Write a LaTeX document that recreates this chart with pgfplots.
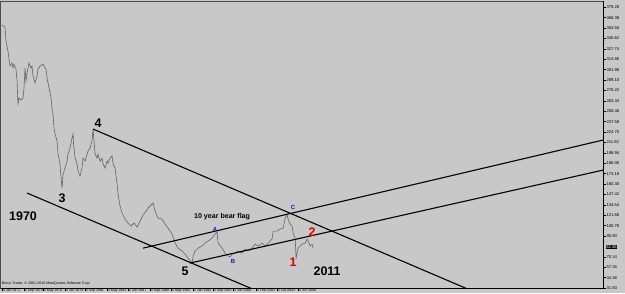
\documentclass[border=0pt]{standalone}
\usepackage{pgfplots}
\pgfplotsset{compat=1.18}
\usepackage{fontspec}
\setmainfont{Liberation Sans}
\definecolor{bg}{RGB}{200,200,200}
\definecolor{pl}{RGB}{100,100,100}
\definecolor{lblue}{RGB}{20,20,200}
\definecolor{lred}{RGB}{220,0,0}
\begin{document}
\begin{tikzpicture}[x=1bp,y=1bp]
\useasboundingbox (0,0) rectangle (625,293);
\fill[bg] (0,0) rectangle (625,293);
\begin{axis}[
  at={(0,5.5)}, anchor=south west,
  scale only axis, width=603bp, height=287.5bp,
  xmin=1970.75, xmax=2046.1, ymin=30.9, ymax=386.95,
  axis x line=bottom, axis y line=right,
  axis line style={-, black, line width=0.7bp},
  clip=false,
  tick align=outside,
  major tick length=2.5bp,
  tick style={black, line width=0.4bp},
  xtick={1971.0,1973.75,1976.13,1978.88,1981.38,1984.13,1986.75,1989.5,1992.13,1994.88,1997.38,1999.88,2002.75,2005.38,2007.99},
  xticklabels={2 Jan 1971,1 Sep 1973,1 May 1976,2 Jan 1979,1 Sep 1981,1 May 1984,2 Jan 1987,1 Sep 1989,1 May 1992,2 Jan 1995,1 Sep 1997,1 Jun 2000,1 Feb 2003,1 Oct 2005,1 Jun 2008},
  xticklabel style={font=\fontsize{3.5}{4}\selectfont, anchor=north west, inner sep=0.3bp, xshift=0.5bp, yshift=2.2bp},
  ytick={31.50,44.38,57.26,70.14,95.90,108.78,121.66,134.54,147.42,160.30,173.18,186.06,198.94,211.82,224.70,237.58,250.46,263.34,276.22,289.10,301.98,314.86,327.74,340.62,353.50,366.38,379.26},
  yticklabel style={font=\fontsize{4.2}{5}\selectfont, anchor=west, inner sep=0.5bp, xshift=0.3bp,
    /pgf/number format/.cd, fixed, precision=2, zerofill, assume math mode=true},
  scaled y ticks=false,
]
% price history
\addplot[pl, line width=0.6bp] coordinates {
(1970.96,357.2) (1971.25,356.0) (1971.38,353.5) (1971.5,337.4) (1971.75,325.0)
(1972.0,306.4) (1972.25,310.2) (1972.38,304.0) (1972.5,308.9) (1972.75,302.7)
(1972.88,287.9) (1973.0,259.4) (1973.13,266.8) (1973.38,264.4) (1973.63,266.8)
(1973.75,279.2) (1973.88,304.0) (1974.0,287.9) (1974.13,297.8) (1974.38,310.2)
(1974.63,304.0) (1974.75,306.4) (1974.88,294.1) (1975.13,285.4) (1975.38,294.1)
(1975.5,302.7) (1975.75,306.4) (1976.13,308.9) (1976.25,306.4) (1976.5,302.7)
(1976.63,291.6) (1976.88,279.2) (1977.13,266.8) (1977.25,254.4) (1977.38,247.0)
(1977.5,229.7) (1977.63,222.2) (1977.88,213.6) (1978.0,197.5) (1978.25,185.1)
(1978.38,167.7) (1978.5,155.3) (1978.63,172.7) (1978.88,180.1) (1979.13,188.8)
(1979.25,197.5) (1979.5,204.9) (1979.75,217.3) (1979.88,222.2) (1979.94,209.8)
(1980.13,192.5) (1980.38,185.1) (1980.5,176.4) (1980.75,170.2) (1981.0,180.1)
(1981.13,192.5) (1981.38,188.8) (1981.63,197.5) (1981.75,201.2) (1982.0,204.9)
(1982.25,213.6) (1982.38,228.4) (1982.63,197.5) (1982.88,192.5) (1983.0,197.5)
(1983.25,188.8) (1983.5,192.5) (1983.63,185.1) (1983.88,180.1) (1984.13,188.8)
(1984.25,186.3) (1984.5,192.5) (1984.75,195.0) (1984.88,185.1) (1985.13,180.1)
(1985.38,160.3) (1985.5,147.9) (1985.75,133.1) (1986.0,124.4) (1986.38,116.9)
(1986.75,112.0) (1987.13,108.3) (1987.5,112.0) (1987.88,107.1) (1988.25,114.5)
(1988.63,122.0) (1989.0,126.9) (1989.25,130.6) (1989.5,133.1) (1989.88,136.8)
(1990.13,126.9) (1990.5,118.2) (1991.0,117.0) (1991.38,110.8) (1991.75,105.8)
(1992.25,98.4) (1992.63,87.2) (1993.0,81.0) (1993.5,77.3) (1993.88,73.6)
(1994.25,68.7) (1994.75,62.5) (1994.88,71.2) (1995.13,77.3) (1995.5,81.0)
(1996.0,83.5) (1996.38,87.2) (1996.75,89.7) (1997.25,93.4) (1997.63,98.4)
(1997.88,100.9) (1998.0,87.2) (1998.5,81.0) (1998.88,74.8) (1999.25,71.2)
(1999.5,69.9) (1999.75,73.6) (2000.13,74.8) (2000.5,77.3) (2001.0,74.8)
(2001.38,79.7) (2001.75,77.3) (2002.25,81.0) (2002.63,86.0) (2003.0,83.5)
(2003.5,87.2) (2003.88,83.5) (2004.25,87.2) (2004.75,92.2) (2004.88,102.1)
(2005.38,102.1) (2005.75,104.6) (2006.13,105.8) (2006.38,118.2) (2006.63,121.9)
(2006.75,117.0) (2007.0,110.7) (2007.25,108.3) (2007.38,99.6) (2007.63,93.4)
(2007.75,68.8) (2008.0,81.0) (2008.5,86.0) (2008.88,87.2) (2009.13,92.2)
(2009.25,89.7) (2009.5,83.5) (2009.75,86.0) (2009.88,81.0)
};
% trend lines
\addplot[black, line width=1.1bp] coordinates {(1982.38,228.4) (2029.05,30.9)};
\addplot[black, line width=1.1bp] coordinates {(1974.13,149.2) (2002.17,30.9)};
\addplot[black, line width=1.1bp] coordinates {(1988.63,81.0) (2046.1,214.8)};
\addplot[black, line width=1.1bp] coordinates {(1994.5,62.5) (2046.1,177.6)};
% frame left/top
\draw[gray!60!black, line width=0.5bp] (rel axis cs:0,0) -- (rel axis cs:0,1) -- (rel axis cs:1,1);
% labels
\node[font=\bfseries\fontsize{12.5}{13}\selectfont] at (axis cs:1973.63,120.7) {1970};
\node[font=\bfseries\fontsize{12.5}{13}\selectfont] at (axis cs:1978.5,143.0) {3};
\node[font=\bfseries\fontsize{12.5}{13}\selectfont] at (axis cs:1983.0,235.9) {4};
\node[font=\bfseries\fontsize{12.5}{13}\selectfont] at (axis cs:1993.88,52.6) {5};
\node[font=\bfseries\fontsize{12.5}{13}\selectfont] at (axis cs:2011.63,52.6) {2011};
\node[font=\bfseries\fontsize{12.5}{13}\selectfont, text=lred] at (axis cs:2007.38,63.7) {1};
\node[font=\bfseries\fontsize{12.5}{13}\selectfont, text=lred] at (axis cs:2009.75,100.9) {2};
\node[font=\bfseries\fontsize{6}{7}\selectfont, text=lblue] at (axis cs:1997.63,104.6) {A};
\node[font=\bfseries\fontsize{6}{7}\selectfont, text=lblue] at (axis cs:1999.88,64.9) {B};
\node[font=\bfseries\fontsize{6}{7}\selectfont, text=lblue] at (axis cs:2007.38,131.8) {C};
\node[font=\bfseries\fontsize{7.1}{8}\selectfont] at (axis cs:1998.5,119.4) {10 year bear flag};
\node[font=\fontsize{3.6}{4}\selectfont, anchor=west, inner sep=0.5bp] at (axis cs:1970.9,37.0) {Brocu Trader, © 2001-2010 MetaQuotes Software Corp.};
\node[fill=black, text=white, font=\fontsize{4.2}{5}\selectfont, anchor=west, inner sep=0.6bp, xshift=2.5bp] at (axis cs:2046.1,82.5) {82.46};
\end{axis}
\end{tikzpicture}
\end{document}
